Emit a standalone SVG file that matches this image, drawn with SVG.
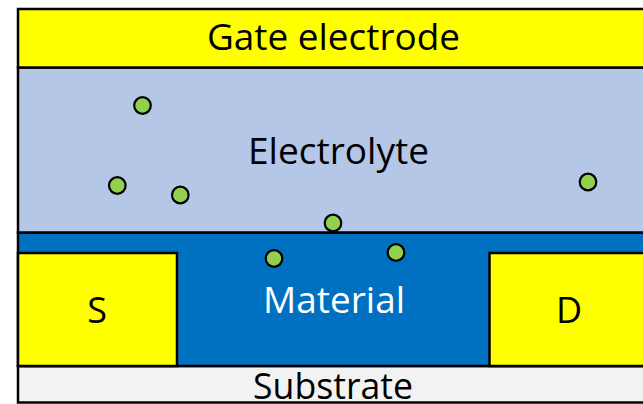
<svg xmlns="http://www.w3.org/2000/svg" width="643" height="404" viewBox="0 0 643 404">
<style>
.lbl{font-family:"Open Sans","Liberation Sans",sans-serif;font-size:36px;text-anchor:middle}
.ion{fill:#92D050;stroke:#000;stroke-width:2.2}
.edge{stroke:#000;stroke-width:2.5}
</style>
<rect width="643" height="404" fill="#fff"/>
<g id="substrate">
<rect class="edge" x="18" y="366" width="640" height="36.5" fill="#F2F2F2"/>
<text class="lbl" x="333" y="399" fill="#000" textLength="160" lengthAdjust="spacingAndGlyphs">Substrate</text>
</g>
<g id="material">
<rect class="edge" x="18" y="232.5" width="640" height="133.5" fill="#0070C0"/>
<text class="lbl" x="334" y="313" fill="#fff" textLength="142" lengthAdjust="spacingAndGlyphs">Material</text>
</g>
<g id="source">
<rect class="edge" x="18" y="253" width="159" height="113" fill="#FFFF00"/>
<text class="lbl" x="97" y="323" fill="#000">S</text>
</g>
<g id="drain">
<rect class="edge" x="489.5" y="253" width="170" height="113" fill="#FFFF00"/>
<text class="lbl" x="569" y="323" fill="#000">D</text>
</g>
<g id="electrolyte">
<rect class="edge" x="18" y="67.5" width="640" height="165" fill="#B4C7E7"/>
<text class="lbl" x="338.5" y="164" fill="#000" textLength="181" lengthAdjust="spacingAndGlyphs">Electrolyte</text>
</g>
<g id="gate">
<rect class="edge" x="18" y="9" width="640" height="58.5" fill="#FFFF00"/>
<text class="lbl" x="333.5" y="50" fill="#000" textLength="253" lengthAdjust="spacingAndGlyphs">Gate electrode</text>
</g>
<g id="ions">
<circle class="ion" cx="142.5" cy="105.5" r="8.3"/>
<circle class="ion" cx="117.3" cy="185.5" r="8.3"/>
<circle class="ion" cx="180.3" cy="195" r="8.3"/>
<circle class="ion" cx="588" cy="182" r="8.3"/>
<circle class="ion" cx="333" cy="223" r="8.3"/>
<circle class="ion" cx="274" cy="258.5" r="8.3"/>
<circle class="ion" cx="396" cy="252.5" r="8.3"/>
</g>
</svg>
